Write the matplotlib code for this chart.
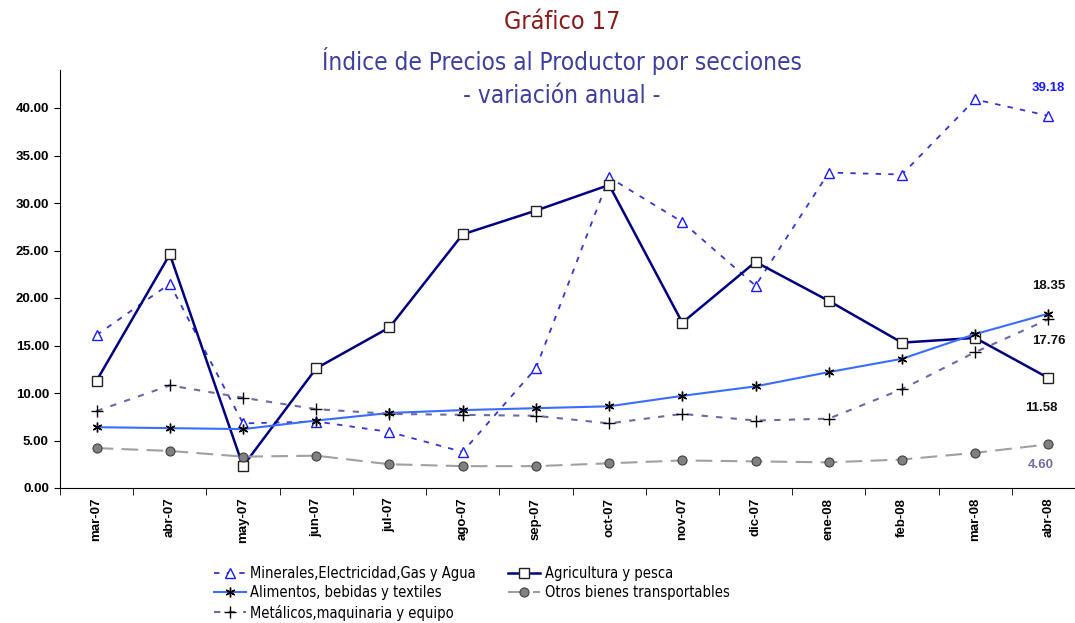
import matplotlib.pyplot as plt
import numpy as np

plt.rcParams['font.family'] = ['Liberation Sans', 'DejaVu Sans']
cond = {'family': 'DejaVu Sans', 'stretch': 'condensed'}

meses = ['mar-07', 'abr-07', 'may-07', 'jun-07', 'jul-07', 'ago-07', 'sep-07',
         'oct-07', 'nov-07', 'dic-07', 'ene-08', 'feb-08', 'mar-08', 'abr-08']

minerales = [16.1, 21.5, 6.8, 7.0, 5.9, 3.8, 12.6, 32.7, 28.0, 21.3, 33.2, 33.0, 40.9, 39.18]
agricultura = [11.3, 24.6, 2.3, 12.6, 16.9, 26.7, 29.2, 31.9, 17.4, 23.8, 19.7, 15.3, 15.8, 11.58]
alimentos = [6.4, 6.3, 6.2, 7.1, 7.9, 8.2, 8.4, 8.6, 9.7, 10.7, 12.2, 13.6, 16.2, 18.35]
metalicos = [8.1, 10.8, 9.5, 8.3, 7.8, 7.7, 7.6, 6.8, 7.8, 7.1, 7.3, 10.4, 14.3, 17.76]
otros = [4.2, 3.9, 3.3, 3.4, 2.5, 2.3, 2.3, 2.6, 2.9, 2.8, 2.7, 3.0, 3.7, 4.60]

x = np.arange(len(meses))

fig = plt.figure(figsize=(10.75, 6.23), dpi=100)
ax = fig.add_axes([60 / 1075, 1 - 488 / 623, 1025 / 1075, 418 / 623])

l_min, = ax.plot(x, minerales, color='#3535d0', lw=1.3, ls=(0, (3, 4)),
                 marker='^', ms=6.5, mfc='white', mec='#1a1aff', mew=1,
                 label='Minerales,Electricidad,Gas y Agua')
l_agr, = ax.plot(x, agricultura, color='#000080', lw=1.8,
                 marker='s', ms=7, mfc='white', mec='#222222', mew=1,
                 label='Agricultura y pesca')
l_ali, = ax.plot(x, alimentos, color='#3a6cff', lw=1.5,
                 marker=(6, 2, 0), ms=7, mec='black', mew=1,
                 label='Alimentos, bebidas y textiles')
l_otr, = ax.plot(x, otros, color='#a0a0a0', lw=1.5, ls=(0, (8, 4)),
                 marker='o', ms=6.5, mfc='#808080', mec='#404040', mew=0.8,
                 label='Otros bienes transportables')
l_met, = ax.plot(x, metalicos, color='#6a6aa8', lw=1.5, ls=(0, (3, 4)),
                 marker='+', ms=8, mec='black', mew=1,
                 label='Metálicos,maquinaria y equipo')

# etiquetas del último dato
ult = len(meses) - 1
ax.text(ult, minerales[-1] + 2.9, f'{minerales[-1]:.2f}', color='#1a1aff',
        ha='center', va='center', fontsize=9.5, fontweight='bold')
ax.text(ult, alimentos[-1] + 2.9, f'{alimentos[-1]:.2f}', color='#111111',
        ha='center', va='center', fontsize=9.5, fontweight='bold')
ax.text(ult, metalicos[-1] - 2.3, f'{metalicos[-1]:.2f}', color='#111111',
        ha='center', va='center', fontsize=9.5, fontweight='bold')
ax.text(ult - 0.1, agricultura[-1] - 3.2, f'{agricultura[-1]:.2f}', color='#111111',
        ha='center', va='center', fontsize=9.5, fontweight='bold')
ax.text(ult - 0.1, otros[-1] - 2.2, f'{otros[-1]:.2f}', color='#6f6fa8',
        ha='center', va='center', fontsize=9.5, fontweight='bold')

ax.set_xlim(-0.5, len(meses) - 0.5)
ax.set_ylim(0, 44)
ax.set_yticks(np.arange(0, 41, 5))
ax.set_yticklabels([f'{v:.2f}' for v in np.arange(0, 41, 5)], fontsize=9.5, fontweight='bold')
ax.set_xticks(x)
ax.set_xticklabels(meses, rotation=90, fontsize=9.5, fontweight='bold')
ax.set_xticks(np.arange(-0.5, len(meses), 1), minor=True)
ax.tick_params(axis='x', which='major', length=0, pad=7)
ax.tick_params(axis='x', which='minor', length=5, direction='out')
ax.tick_params(axis='y', length=4, direction='out', pad=4)

for s in ['top', 'right']:
    ax.spines[s].set_visible(False)

# títulos
fig.text(0.523, 1 - 22 / 623, 'Gráfico 17', color='#8b1a1a', ha='center', va='center',
         fontsize=18, **cond)
fig.text(0.523, 1 - 61 / 623, 'Índice de Precios al Productor por secciones', color='#3f3fa0',
         ha='center', va='center', fontsize=17.5, **cond)
fig.text(0.523, 1 - 96 / 623, '- variación anual -', color='#3f3fa0',
         ha='center', va='center', fontsize=17.5, **cond)

leg = fig.legend(handles=[l_min, l_ali, l_met, l_agr, l_otr], ncol=2,
                 loc='upper left', bbox_to_anchor=(208 / 1075, 1 - 560 / 623),
                 frameon=False, handlelength=2.2, handletextpad=0.3,
                 columnspacing=2.2, labelspacing=0.3, borderaxespad=0,
                 prop={**cond, 'size': 10.5})

fig.savefig('out.png', dpi=100)
